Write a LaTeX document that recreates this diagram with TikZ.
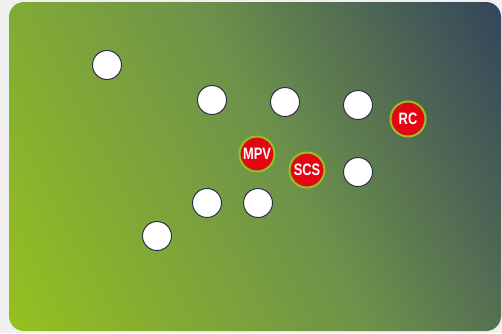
\documentclass[tikz,border=0pt]{standalone}
\usepackage{fontspec}
\usepackage{graphicx}
\newfontfamily\dotfont{Liberation Sans}
\definecolor{pagegray}{HTML}{F0F0F0}
\definecolor{limegreen}{HTML}{95C11F}
\definecolor{mossgreen}{HTML}{6E924A}
\definecolor{slateblue}{HTML}{34445C}
\definecolor{dotred}{HTML}{E30613}
\definecolor{dotrim}{HTML}{2E2E4C}
\pgfdeclarehorizontalshading{cardfade}{100bp}{color(0bp)=(limegreen); color(25bp)=(limegreen); color(52bp)=(mossgreen); color(75bp)=(slateblue); color(100bp)=(slateblue)}
\newcommand{\dotlabel}[1]{\scalebox{0.78}[1]{\dotfont\bfseries\fontsize{16.5}{16.5}\selectfont #1}}
\tikzset{
  whitedot/.style={circle, fill=white, draw=dotrim, line width=1pt, minimum size=29pt, inner sep=0pt},
  reddot/.style={circle, fill=dotred, draw=limegreen, line width=2pt, minimum size=35pt, inner sep=0pt, text=white}
}
\begin{document}
\begin{tikzpicture}[x=1pt,y=-1pt]

            \useasboundingbox[fill=pagegray] (0,0) rectangle (502,333);

            \begin{scope}
              \clip[rounded corners=15pt] (9,2) rectangle (501,331);
              \shade[shading=cardfade, transform canvas={rotate around={28:(255,166)}}] (-40,-109) rectangle (550,441);
            \end{scope}

            \node[whitedot] (w1) at (107,65) {};
            \node[whitedot] (w2) at (212,100) {};
            \node[whitedot] (w3) at (285,102) {};
            \node[whitedot] (w4) at (358,105) {};
            \node[whitedot] (w5) at (358,172) {};
            \node[whitedot] (w6) at (207,203) {};
            \node[whitedot] (w7) at (258,203) {};
            \node[whitedot] (w8) at (157,236) {};

            \node[reddot] (rc) at (408,119) {\dotlabel{RC}};
            \node[reddot] (mpv) at (257,154) {\dotlabel{MPV}};
            \node[reddot] (scs) at (307,170) {\dotlabel{SCS}};

          \end{tikzpicture}
\end{document}
